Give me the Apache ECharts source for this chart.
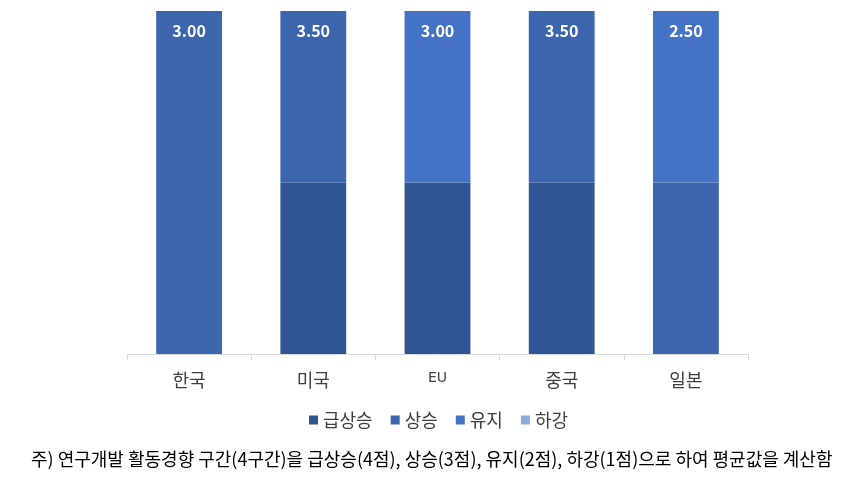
<!DOCTYPE html>
<html>
<head>
<meta charset="utf-8">
<script src="https://cdn.jsdelivr.net/npm/echarts@6/dist/echarts.min.js"></script>
<style>html,body{margin:0;padding:0;background:#fff}#c{width:863px;height:484px}</style>
</head>
<body>
<div id="c"></div>
<script>
var categories = ['한국', '미국', 'EU', '중국', '일본'];
var seriesNames = ['급상승', '상승', '유지', '하강'];
var surge = [0, 50, 50, 50, 0];
var rise = [100, 50, 0, 50, 50];
var keep = [0, 0, 50, 0, 50];
var fall = [0, 0, 0, 0, 0];
var scores = ['3.00', '3.50', '3.00', '3.50', '2.50'];
var footnote = '주) 연구개발 활동경향 구간(4구간)을 급상승(4점), 상승(3점), 유지(2점), 하강(1점)으로 하여 평균값을 계산함';

var colors = ['#2F5593', '#3B65AD', '#4472C4', '#8FAADC'];
var allData = [surge, rise, keep, fall];

function isTop(si, di) {
  if (allData[si][di] === 0) return false;
  for (var k = si + 1; k < allData.length; k++) {
    if (allData[k][di] !== 0) return false;
  }
  return true;
}

var font = '"Noto Sans CJK KR", sans-serif';
var chart = echarts.init(document.getElementById('c'));
var series = allData.map(function (d, si) {
  return {
    name: seriesNames[si],
    type: 'bar',
    stack: 'total',
    data: d,
    barWidth: '53%',
    itemStyle: { color: colors[si] },
    label: {
      show: true,
      position: 'insideTop',
      distance: 12,
      color: '#ffffff',
      fontWeight: 'bold',
      fontSize: 16,
      fontFamily: font,
      formatter: function (p) { return isTop(si, p.dataIndex) ? scores[p.dataIndex] : ''; }
    }
  };
});

chart.setOption({
  animation: false,
  textStyle: { fontFamily: font },
  grid: { left: 127, right: 115, top: 11, bottom: 130 },
  legend: {
    data: seriesNames,
    top: 406,
    left: 304,
    itemWidth: 9,
    itemHeight: 9,
    itemGap: 18,
    icon: 'rect',
    textStyle: { fontSize: 18, color: '#404040', fontFamily: font }
  },
  title: {
    text: footnote,
    left: 31,
    top: 450,
    padding: 0,
    textStyle: { fontSize: 18, fontWeight: 'normal', color: '#000', fontFamily: font }
  },
  xAxis: {
    type: 'category',
    data: categories,
    axisLine: { lineStyle: { color: '#D9D9D9', width: 1 } },
    axisTick: { show: true, length: 6, lineStyle: { color: '#D9D9D9' } },
    axisLabel: {
      margin: 17,
      fontSize: 18,
      color: '#404040',
      fontFamily: font,
      formatter: function (v) { return v === 'EU' ? '{eu|EU}' : v; },
      rich: { eu: { fontSize: 14, fontFamily: 'DejaVu Sans', color: '#404040', padding: [0, 0, 7, 0] } }
    }
  },
  yAxis: { type: 'value', min: 0, max: 100, show: false },
  series: series
});
</script>
</body>
</html>
